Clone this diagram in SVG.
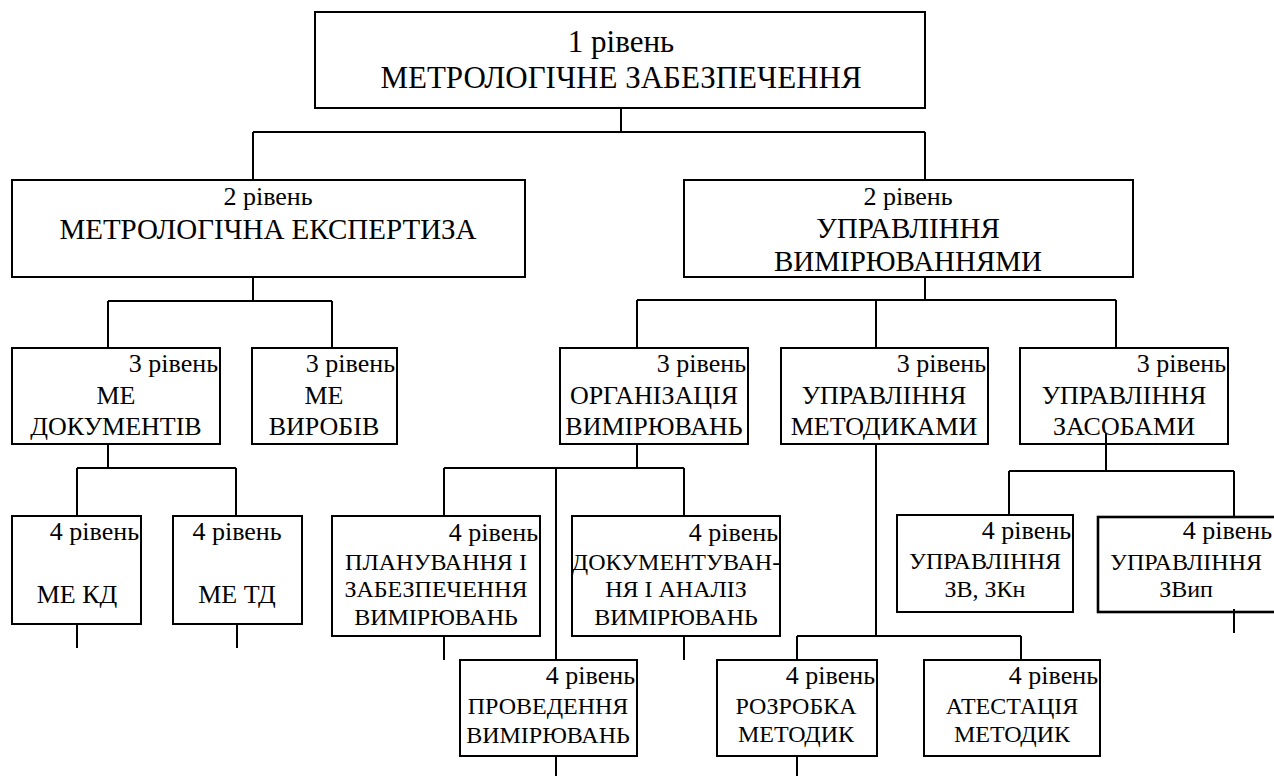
<svg xmlns="http://www.w3.org/2000/svg" width="1274" height="776" viewBox="0 0 1274 776">
<style>
  .bx{fill:#fff;stroke:#000;stroke-width:2}
  .bx2{fill:#fff;stroke:#000;stroke-width:2.6}
  .ln{fill:none;stroke:#000;stroke-width:2}
  .t text{fill:#000}
  .c{text-anchor:middle}
  .r{text-anchor:end}
  .f31{font-size:31px}
  .f29{font-size:29px}
  .f26{font-size:26px}
  .f24{font-size:24px}
</style>
<rect width="1274" height="776" fill="#fff"/>
<g id="connectors">
  <path class="ln" d="M621,108V132M253,132H925M253,132V180M925,132V180"/>
  <path class="ln" d="M253,277V301M108,301H332M108,301V348M332,301V348"/>
  <path class="ln" d="M925,277V300M637,300H1116M637,300V348M876,300V348M1116,300V348"/>
  <path class="ln" d="M108,444V468M77,468H236M77,468V516M236,468V516"/>
  <path class="ln" d="M637,444V468M444,468H684M444,468V516M684,468V516M556,468V660"/>
  <path class="ln" d="M876,444V636M797,636H1021M797,636V660M1021,636V660"/>
  <path class="ln" d="M1009,471H1234M1009,471V515M1234,471V517"/>
  <path class="ln" d="M77,624V648M237,624V648M444,636V660M684,636V660M556,756V776M797,756V776M1234,609V633"/>
</g>
<g class="t" font-family="'Liberation Serif', 'Times New Roman', serif">
<g id="n1">
  <rect class="bx" x="315" y="12" width="610" height="96"/>
  <text class="c f31" x="621" y="52">1 рівень</text>
  <text class="c f31" x="621" y="88">МЕТРОЛОГІЧНЕ ЗАБЕЗПЕЧЕННЯ</text>
</g>
<g id="n2a">
  <rect class="bx" x="12" y="180" width="513" height="97"/>
  <text class="c f26" x="268" y="205">2 рівень</text>
  <text class="c f29" x="268" y="239">МЕТРОЛОГІЧНА ЕКСПЕРТИЗА</text>
</g>
<g id="n2b">
  <rect class="bx" x="684" y="180" width="449" height="97"/>
  <text class="c f26" x="908" y="205">2 рівень</text>
  <text class="c f29" x="908" y="238">УПРАВЛІННЯ</text>
  <text class="c f29" x="908" y="271">ВИМІРЮВАННЯМИ</text>
</g>
<g id="n3a">
  <rect class="bx" x="12" y="348" width="208" height="96"/>
  <text class="r f26" x="218" y="372">3 рівень</text>
  <text class="c f26" x="116" y="404">МЕ</text>
  <text class="c f26" x="116" y="435">ДОКУМЕНТІВ</text>
</g>
<g id="n3b">
  <rect class="bx" x="252" y="348" width="145" height="96"/>
  <text class="r f26" x="395" y="372">3 рівень</text>
  <text class="c f26" x="324" y="404">МЕ</text>
  <text class="c f26" x="324" y="435">ВИРОБІВ</text>
</g>
<g id="n3c">
  <rect class="bx" x="560" y="348" width="188" height="96"/>
  <text class="r f26" x="746" y="372">3 рівень</text>
  <text class="c f26" x="654" y="404">ОРГАНІЗАЦІЯ</text>
  <text class="c f26" x="654" y="435">ВИМІРЮВАНЬ</text>
</g>
<g id="n3d">
  <rect class="bx" x="781" y="348" width="207" height="96"/>
  <text class="r f26" x="986" y="372">3 рівень</text>
  <text class="c f26" x="884" y="404">УПРАВЛІННЯ</text>
  <text class="c f26" x="884" y="435">МЕТОДИКАМИ</text>
</g>
<g id="n3e">
  <rect class="bx" x="1020" y="348" width="208" height="96"/>
  <text class="r f26" x="1226" y="372">3 рівень</text>
  <text class="c f26" x="1124" y="404">УПРАВЛІННЯ</text>
  <text class="c f26" x="1124" y="435">ЗАСОБАМИ</text>
</g>
<g id="n4a">
  <rect class="bx" x="12" y="516" width="129" height="108"/>
  <text class="r f26" x="139" y="540">4 рівень</text>
  <text class="c f26" x="77" y="603">МЕ КД</text>
</g>
<g id="n4b">
  <rect class="bx" x="173" y="516" width="129" height="108"/>
  <text class="c f26" x="237" y="540">4 рівень</text>
  <text class="c f26" x="237" y="603">МЕ ТД</text>
</g>
<g id="n4c">
  <rect class="bx" x="332" y="516" width="208" height="120"/>
  <text class="r f26" x="538" y="541">4 рівень</text>
  <text class="c f24" x="436" y="570">ПЛАНУВАННЯ І</text>
  <text class="c f24" x="436" y="597">ЗАБЕЗПЕЧЕННЯ</text>
  <text class="c f24" x="436" y="625">ВИМІРЮВАНЬ</text>
</g>
<g id="n4d">
  <rect class="bx" x="572" y="516" width="208" height="120"/>
  <text class="r f26" x="778" y="541">4 рівень</text>
  <text class="c f24" x="676" y="570">ДОКУМЕНТУВАН-</text>
  <text class="c f24" x="676" y="597">НЯ І АНАЛІЗ</text>
  <text class="c f24" x="676" y="625">ВИМІРЮВАНЬ</text>
</g>
<g id="n4e">
  <rect class="bx" x="460" y="660" width="177" height="96"/>
  <text class="r f26" x="635" y="684">4 рівень</text>
  <text class="c f24" x="548" y="714">ПРОВЕДЕННЯ</text>
  <text class="c f24" x="548" y="743">ВИМІРЮВАНЬ</text>
</g>
<g id="n4f">
  <rect class="bx" x="717" y="660" width="160" height="96"/>
  <text class="r f26" x="875" y="684">4 рівень</text>
  <text class="c f24" x="796" y="714">РОЗРОБКА</text>
  <text class="c f24" x="796" y="742">МЕТОДИК</text>
</g>
<g id="n4g">
  <rect class="bx" x="924" y="660" width="176" height="96"/>
  <text class="r f26" x="1098" y="684">4 рівень</text>
  <text class="c f24" x="1012" y="714">АТЕСТАЦІЯ</text>
  <text class="c f24" x="1012" y="742">МЕТОДИК</text>
</g>
<g id="n4h">
  <rect class="bx" x="897" y="515" width="176" height="97"/>
  <text class="r f26" x="1071" y="539">4 рівень</text>
  <text class="c f24" x="985" y="569">УПРАВЛІННЯ</text>
  <text class="c f24" x="985" y="597">ЗВ, ЗКн</text>
</g>
<g id="n4i">
  <rect class="bx2" x="1098" y="517" width="182" height="95"/>
  <text class="r f26" x="1272" y="539">4 рівень</text>
  <text class="c f24" x="1186" y="570">УПРАВЛІННЯ</text>
  <text class="c f24" x="1186" y="597">ЗВип</text>
</g>
</g>
<path class="ln" d="M1106,433V471M1234,609V633"/>
</svg>
